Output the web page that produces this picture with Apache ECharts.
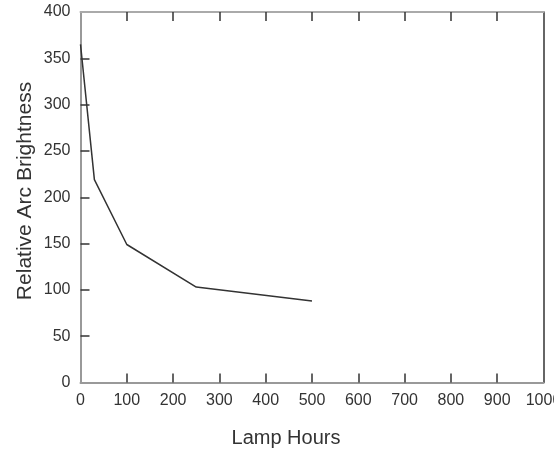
<!DOCTYPE html>
<html>
<head>
<meta charset="utf-8">
<script src="https://cdn.jsdelivr.net/npm/echarts@6/dist/echarts.min.js"></script>
<style>html,body{margin:0;padding:0;background:#fff}#c{width:554px;height:450px}</style>
</head>
<body>
<div id="c"></div>
<script>
const lampHours = [0, 30, 100, 250, 500];
const brightness = [365, 219, 149, 103, 88];
const xInnerTicks = [100, 200, 300, 400, 500, 600, 700, 800, 900];
const yInnerTicks = [50, 100, 150, 200, 250, 300, 350];
const xTitle = 'Lamp Hours';
const yTitle = 'Relative Arc Brightness';

const chart = echarts.init(document.getElementById('c'), null, {renderer: 'canvas'});
const font = 'Liberation Sans, Arial, Helvetica, sans-serif';
const tickStyle = {color: '#333', width: 1.5};
const plain = v => String(v);
chart.setOption({
  animation: false,
  backgroundColor: '#fff',
  grid: {left: 80.5, right: 10.5, top: 12, bottom: 67.5, containLabel: false, outerBoundsMode: 'none'},
  xAxis: [{
    type: 'value', min: 0, max: 1000, interval: 100, position: 'bottom',
    axisLine: {show: true, onZero: false, lineStyle: {color: '#999', width: 2}},
    axisTick: {show: true, inside: true, length: 9, lineStyle: tickStyle, customValues: xInnerTicks},
    axisLabel: {color: '#333', fontSize: 16, fontFamily: font, margin: 10, formatter: plain},
    splitLine: {show: false}
  }, {
    type: 'value', min: 0, max: 1000, interval: 100, position: 'top',
    axisLine: {show: true, onZero: false, lineStyle: {color: '#aaa', width: 2}},
    axisTick: {show: true, inside: true, length: 9, lineStyle: tickStyle, customValues: xInnerTicks},
    axisLabel: {show: false},
    splitLine: {show: false}
  }],
  yAxis: [{
    type: 'value', min: 0, max: 400, interval: 50, position: 'left',
    axisLine: {show: true, onZero: false, lineStyle: {color: '#999', width: 2}},
    axisTick: {show: true, inside: true, length: 9, lineStyle: tickStyle, customValues: yInnerTicks},
    axisLabel: {color: '#333', fontSize: 16, fontFamily: font, margin: 10, formatter: plain},
    splitLine: {show: false}
  }, {
    type: 'value', min: 0, max: 400, interval: 50, position: 'right',
    axisLine: {show: true, onZero: false, lineStyle: {color: '#333', width: 1.5}},
    axisTick: {show: false},
    axisLabel: {show: false},
    splitLine: {show: false}
  }],
  series: [{
    type: 'line',
    data: lampHours.map((x, i) => [x, brightness[i]]),
    showSymbol: false,
    symbol: 'none',
    lineStyle: {color: '#333', width: 1.5},
    itemStyle: {color: '#333'}
  }],
  graphic: [{
    type: 'text', x: 286, y: 438,
    style: {text: xTitle, font: '20px ' + font, fill: '#333', align: 'center', verticalAlign: 'middle'}
  }, {
    type: 'text',
    x: 25, y: 191, rotation: Math.PI / 2,
    style: {text: yTitle, font: '21px ' + font, fill: '#333', align: 'center', verticalAlign: 'middle'}
  }]
});
</script>
</body>
</html>
